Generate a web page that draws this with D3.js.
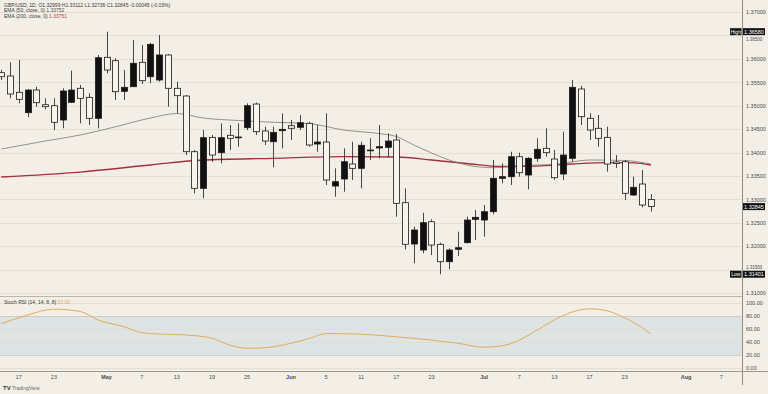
<!DOCTYPE html>
<html>
<head>
<meta charset="utf-8">
<script src="https://cdn.jsdelivr.net/npm/d3@7"></script>
<style>
  html, body { margin: 0; padding: 0; background: #f3efe6; }
  svg { display: block; font-family: 'Liberation Sans', Arial, sans-serif; }
</style>
</head>
<body>
<div id="chart"></div>
<script>
// daily candles, first entry is bar -1 (cut by the left edge)
const barStart = -1;
const opens = [1.35704, 1.35633, 1.35285, 1.34850, 1.35334, 1.35020, 1.34999, 1.34694, 1.35072, 1.35371,
  1.35178, 1.34730, 1.36033, 1.35960, 1.35307, 1.35405, 1.35926, 1.35618, 1.35548, 1.36082,
  1.35371, 1.35206, 1.34017, 1.33235, 1.34324, 1.33996, 1.34367, 1.34331, 1.34529, 1.35035,
  1.34459, 1.34230, 1.34465, 1.34572, 1.34538, 1.34623, 1.34181, 1.34224, 1.33284, 1.33434,
  1.33754, 1.33662, 1.34038, 1.34096, 1.34111, 1.34267, 1.32928, 1.32046, 1.31918, 1.32522,
  1.32040, 1.31668, 1.31933, 1.32074, 1.32573, 1.32558, 1.32736, 1.33449, 1.33483, 1.33910,
  1.33519, 1.33876, 1.34089, 1.33861, 1.33541, 1.33876, 1.35356, 1.34730, 1.34517, 1.34324,
  1.33797, 1.33803, 1.33092, 1.33327, 1.32999];
const highs = [1.35761, 1.35926, 1.35975, 1.35356, 1.35405, 1.35157, 1.35157, 1.35371, 1.35747, 1.35441,
  1.35264, 1.36082, 1.36580, 1.36011, 1.35761, 1.36402, 1.36295, 1.36340, 1.36509, 1.36103,
  1.35512, 1.35228, 1.34053, 1.34480, 1.34373, 1.34623, 1.34587, 1.34623, 1.35050, 1.35063,
  1.34551, 1.34551, 1.34837, 1.34694, 1.34801, 1.34657, 1.34587, 1.34837, 1.33662, 1.34089,
  1.34230, 1.34230, 1.34303, 1.34587, 1.34410, 1.34395, 1.33235, 1.32415, 1.32714, 1.32573,
  1.32074, 1.31954, 1.32309, 1.32629, 1.32772, 1.32879, 1.33840, 1.33769, 1.34017, 1.33996,
  1.33897, 1.34303, 1.34517, 1.34053, 1.34444, 1.35548, 1.35426, 1.34837, 1.34801, 1.34551,
  1.33946, 1.33840, 1.33483, 1.33626, 1.33112];
const lows = [1.35548, 1.35157, 1.35050, 1.34751, 1.34978, 1.34922, 1.34480, 1.34517, 1.35060, 1.34623,
  1.34587, 1.34517, 1.35691, 1.35121, 1.35121, 1.35400, 1.35463, 1.35477, 1.35512, 1.34978,
  1.34837, 1.33946, 1.33129, 1.33022, 1.33803, 1.33769, 1.34053, 1.34124, 1.34480, 1.34373,
  1.34160, 1.33684, 1.34089, 1.34267, 1.34480, 1.34124, 1.34017, 1.33306, 1.33056, 1.33163,
  1.33413, 1.33235, 1.33840, 1.33876, 1.33910, 1.32629, 1.31933, 1.31634, 1.31847, 1.31811,
  1.31401, 1.31506, 1.31790, 1.32060, 1.32131, 1.32202, 1.32680, 1.33342, 1.33306, 1.33483,
  1.33214, 1.33803, 1.33910, 1.33413, 1.33413, 1.33803, 1.34587, 1.34267, 1.34124, 1.33590,
  1.33669, 1.32985, 1.33071, 1.32830, 1.32736];
const closes = [1.35618, 1.35249, 1.35136, 1.35334, 1.35063, 1.34978, 1.34645, 1.35313, 1.35334, 1.35157,
  1.34730, 1.36024, 1.35761, 1.35298, 1.35392, 1.35905, 1.35533, 1.36310, 1.36082, 1.35371,
  1.35213, 1.34017, 1.33235, 1.34316, 1.33946, 1.34316, 1.34303, 1.34316, 1.34999, 1.34444,
  1.34245, 1.34431, 1.34495, 1.34517, 1.34636, 1.34160, 1.34224, 1.33413, 1.33376, 1.33803,
  1.33662, 1.34154, 1.34053, 1.34124, 1.34245, 1.32915, 1.32040, 1.32345, 1.32501, 1.32025,
  1.31668, 1.31918, 1.31967, 1.32558, 1.32616, 1.32736, 1.33449, 1.33483, 1.33910, 1.33568,
  1.33876, 1.34068, 1.33996, 1.33462, 1.33946, 1.35392, 1.34764, 1.34480, 1.34303, 1.33754,
  1.33765, 1.33129, 1.33257, 1.32879, 1.32845];

const ema50Bars = [-1, 4, 8, 12, 16, 19, 22, 26, 30, 34, 38, 42, 44, 46, 48, 50, 52, 55, 58, 62, 66, 70, 73];
const ema50Vals = [1.34074, 1.34245, 1.34373, 1.34549, 1.34737, 1.34833, 1.34737, 1.34683, 1.34645, 1.34619,
  1.34480, 1.34405, 1.34341, 1.34160, 1.33989, 1.33840, 1.33733, 1.33675, 1.33722, 1.33744, 1.33840, 1.33829, 1.33752];
const ema200Bars = [-1, 8, 16, 22, 30, 38, 44, 48, 52, 56, 60, 64, 68, 71, 73];
const ema200Vals = [1.33477, 1.33583, 1.33733, 1.33840, 1.33876, 1.33910, 1.33904, 1.33840, 1.33765, 1.33701,
  1.33711, 1.33754, 1.33782, 1.33780, 1.33733];

const stochBars = [-1, 2, 5, 8, 10, 13, 15, 17, 20, 23, 25, 27, 29, 32, 34, 36, 40, 44, 48, 51, 54, 56, 58, 60, 62, 64, 66, 68, 70, 72, 73];
const stochVals = [68, 81.5, 90.5, 87, 74, 63.5, 54.3, 52.3, 50.8, 45.7, 35.4, 30.3, 31.2, 38, 45, 53, 52, 48, 43, 38, 32, 34, 43, 58, 74, 86, 91, 88, 77, 62, 52];

const priceTicks = [1.31, 1.315, 1.32, 1.325, 1.33, 1.335, 1.34, 1.345, 1.35, 1.355, 1.36, 1.365, 1.37];
const stochTicks = [0, 20, 40, 60, 80, 100];
const dateTickBars = [1, 5, 11, 15, 19, 23, 27, 32, 36, 40, 44, 48, 54, 58, 62, 66, 70, 77, 81];
const dateTickLabels = ['17', '23', 'May', '7', '13', '19', '25', 'Jun', '5', '11', '17', '23', 'Jul', '7', '13', '17', '23', 'Aug', '7'];
const monthLabels = ['May', 'Jun', 'Jul', 'Aug'];

const WIDTH = 768;
const HEIGHT = 394;
const AXIS_X = 742;
const MAIN_BOTTOM = 296;
const STOCH_BOTTOM = 371;
const BG = '#f3efe6';
const TEXT = '#4a4a4a';
const GRID = '#dedace';

const candles = opens.map((o, k) => ({
    bar: barStart + k, open: o, high: highs[k], low: lows[k], close: closes[k]
}));
const last = candles[candles.length - 1];

const x = d3.scaleLinear().domain([0, 73]).range([10, 651]);
const y = d3.scaleLinear().domain([1.31, 1.37]).range([293, 12]);
const ys = d3.scaleLinear().domain([0, 100]).range([368, 303]);

const svg = d3.select('#chart').append('svg')
    .attr('width', WIDTH)
    .attr('height', HEIGHT);

svg.append('rect').attr('width', WIDTH).attr('height', HEIGHT).attr('fill', BG);

const defs = svg.append('defs');
defs.append('clipPath').attr('id', 'clip-main')
    .append('rect').attr('x', 0).attr('y', 0).attr('width', AXIS_X).attr('height', MAIN_BOTTOM);
defs.append('clipPath').attr('id', 'clip-stoch')
    .append('rect').attr('x', 0).attr('y', MAIN_BOTTOM + 1).attr('width', AXIS_X).attr('height', STOCH_BOTTOM - MAIN_BOTTOM - 1);

// price grid
svg.append('g').selectAll('line')
    .data(priceTicks)
    .join('line')
    .attr('x1', 0).attr('x2', AXIS_X)
    .attr('y1', d => Math.round(y(d)) + 0.5).attr('y2', d => Math.round(y(d)) + 0.5)
    .attr('stroke', GRID).attr('stroke-width', 0.8);

// stoch pane
svg.append('rect')
    .attr('x', 0).attr('width', AXIS_X)
    .attr('y', ys(80)).attr('height', ys(20) - ys(80))
    .attr('fill', '#dee3e4');
svg.append('g').selectAll('line')
    .data(stochTicks)
    .join('line')
    .attr('x1', 0).attr('x2', AXIS_X)
    .attr('y1', d => Math.round(ys(d)) + 0.5).attr('y2', d => Math.round(ys(d)) + 0.5)
    .attr('stroke', d => (d === 80 || d === 20) ? '#c9c6bd' : GRID)
    .attr('stroke-width', 0.8);

// separators
svg.append('line').attr('x1', 0).attr('x2', AXIS_X).attr('y1', MAIN_BOTTOM + 0.5).attr('y2', MAIN_BOTTOM + 0.5)
    .attr('stroke', '#b9b5ab').attr('stroke-width', 1);
svg.append('line').attr('x1', 0).attr('x2', WIDTH).attr('y1', STOCH_BOTTOM + 0.5).attr('y2', STOCH_BOTTOM + 0.5)
    .attr('stroke', '#9d9990').attr('stroke-width', 1);
svg.append('line').attr('x1', AXIS_X + 0.5).attr('x2', AXIS_X + 0.5).attr('y1', 0).attr('y2', 385)
    .attr('stroke', '#8f8b83').attr('stroke-width', 1);

// EMA lines
const main = svg.append('g').attr('clip-path', 'url(#clip-main)');
const emaLine = d3.line()
    .x(d => x(d[0]))
    .y(d => y(d[1]))
    .curve(d3.curveMonotoneX);

main.append('path')
    .datum(d3.zip(ema200Bars, ema200Vals))
    .attr('d', emaLine)
    .attr('fill', 'none')
    .attr('stroke', '#a3303f')
    .attr('stroke-width', 1.3);

main.append('path')
    .datum(d3.zip(ema50Bars, ema50Vals))
    .attr('d', emaLine)
    .attr('fill', 'none')
    .attr('stroke', '#7d7a74')
    .attr('stroke-width', 0.8);

// candles
const candle = main.append('g').selectAll('g')
    .data(candles)
    .join('g');

candle.append('line')
    .attr('x1', d => Math.round(x(d.bar)) + 0.5).attr('x2', d => Math.round(x(d.bar)) + 0.5)
    .attr('y1', d => y(d.high)).attr('y2', d => y(d.low))
    .attr('stroke', '#1a1a1a').attr('stroke-width', 0.8);

candle.append('rect')
    .attr('x', d => Math.round(x(d.bar)) - 2.5)
    .attr('width', 6)
    .attr('y', d => y(Math.max(d.open, d.close)))
    .attr('height', d => Math.max(0.8, Math.abs(y(d.open) - y(d.close))))
    .attr('fill', d => d.close > d.open ? '#111' : '#f7f4ee')
    .attr('stroke', '#1a1a1a')
    .attr('stroke-width', 0.8);

// stoch rsi
svg.append('g').attr('clip-path', 'url(#clip-stoch)')
    .append('path')
    .datum(d3.zip(stochBars, stochVals))
    .attr('d', d3.line().x(d => x(d[0])).y(d => ys(d[1])).curve(d3.curveMonotoneX))
    .attr('fill', 'none')
    .attr('stroke', '#e2aa5c')
    .attr('stroke-width', 1);

// right axes
const fmt = d3.format('.5f');
const tagged = [d3.max(highs), d3.min(lows)];
const priceAxis = d3.axisRight(y)
    .tickValues(priceTicks)
    .tickFormat(fmt)
    .tickSize(0)
    .tickPadding(4);
const gPrice = svg.append('g').attr('transform', `translate(${AXIS_X},0)`).call(priceAxis);
gPrice.select('.domain').remove();
gPrice.selectAll('text').attr('font-size', 5.5).attr('fill', TEXT).attr('font-family', null);
// labels half hidden under the High / Low tags: keep only the visible part
gPrice.selectAll('.tick')
    .each(function (d) {
        const t = tagged.find(v => Math.abs(y(v) - y(d)) < 7);
        if (t === undefined) return;
        d3.select(this).select('text')
            .attr('font-size', 4.5)
            .attr('dy', y(d) > y(t) ? '1.05em' : '-0.25em');
    });

const stochAxis = d3.axisRight(ys)
    .tickValues(stochTicks)
    .tickFormat(d3.format('.2f'))
    .tickSize(0)
    .tickPadding(4);
const gStoch = svg.append('g').attr('transform', `translate(${AXIS_X},0)`).call(stochAxis);
gStoch.select('.domain').remove();
gStoch.selectAll('text').attr('font-size', 5.5).attr('fill', TEXT).attr('font-family', null);

// date axis
svg.append('g').selectAll('text')
    .data(dateTickBars)
    .join('text')
    .attr('x', d => x(d))
    .attr('y', 379)
    .attr('text-anchor', 'middle')
    .attr('font-size', 5.5)
    .attr('font-weight', (d, k) => monthLabels.includes(dateTickLabels[k]) ? 'bold' : null)
    .attr('fill', TEXT)
    .text((d, k) => dateTickLabels[k]);

// price tags
function priceTag(value, tag) {
    const cy = y(value);
    const g = svg.append('g');
    g.append('rect').attr('x', AXIS_X + 1).attr('y', cy - 3.5).attr('width', 22).attr('height', 7).attr('fill', '#131313');
    g.append('text').attr('x', AXIS_X + 12).attr('y', cy + 2).attr('text-anchor', 'middle')
        .attr('font-size', 5.5).attr('fill', '#fff').text(fmt(value));
    if (tag) {
        g.append('rect').attr('x', AXIS_X - 12).attr('y', cy - 3.5).attr('width', 11.5).attr('height', 7).attr('fill', '#131313');
        g.append('text').attr('x', AXIS_X - 6.2).attr('y', cy + 2).attr('text-anchor', 'middle')
            .attr('font-size', 5).attr('fill', '#fff').text(tag);
    }
}
priceTag(d3.max(highs), 'High');
priceTag(last.close, null);
priceTag(d3.min(lows), 'Low');

// legends
const legend = svg.append('g').attr('font-size', 5).attr('fill', '#3a3a3a');
legend.append('text').attr('x', 4).attr('y', 6.5)
    .text(`GBP/USD, 1D, O${fmt(last.open)} H${fmt(last.high)} L${fmt(last.low)} C${fmt(last.close)} -0.00045 (-0.03%)`);
const l2 = legend.append('text').attr('x', 4).attr('y', 12);
l2.append('tspan').text('EMA (50, close, 0)  ');
l2.append('tspan').attr('fill', '#55524c').text(fmt(ema50Vals[ema50Vals.length - 1]));
const l3 = legend.append('text').attr('x', 4).attr('y', 17.5);
l3.append('tspan').text('EMA (200, close, 0)  ');
l3.append('tspan').attr('fill', '#c0404e').text('1.33751');

const l4 = legend.append('text').attr('x', 4).attr('y', 303.5);
l4.append('tspan').text('Stoch RSI (14, 14, 8, 8)  ');
l4.append('tspan').attr('fill', '#e2aa5c').text(d3.format('.2f')(stochVals[stochVals.length - 1]));

// footer logo
const logo = svg.append('g').attr('fill', '#333');
logo.append('text').attr('x', 3).attr('y', 390).attr('font-size', 6).attr('font-weight', 'bold').text('TV');
logo.append('text').attr('x', 12).attr('y', 390).attr('font-size', 5).attr('fill', '#666').text('TradingView');
</script>
</body>
</html>
